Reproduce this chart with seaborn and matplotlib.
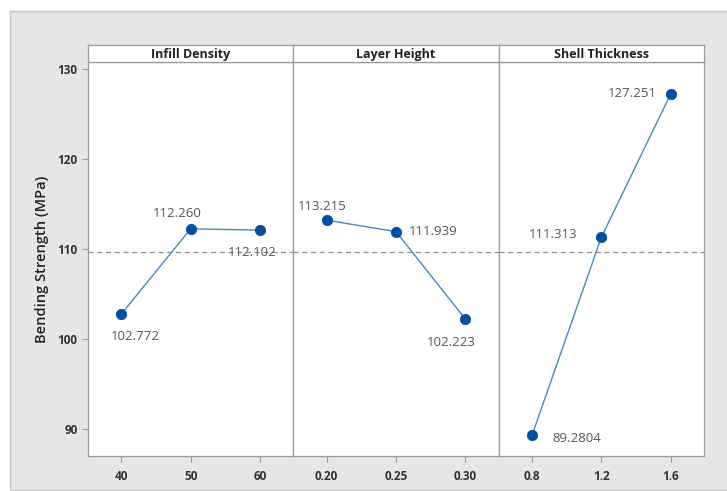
import pandas as pd
import matplotlib.pyplot as plt
import seaborn as sns
from matplotlib.patches import Rectangle

# Main effects data
factors = ["Infill Density", "Layer Height", "Shell Thickness"]
infill_levels = ["40", "50", "60"]
infill_means = [102.772, 112.260, 112.102]
layer_levels = ["0.20", "0.25", "0.30"]
layer_means = [113.215, 111.939, 102.223]
shell_levels = ["0.8", "1.2", "1.6"]
shell_means = [89.2804, 111.313, 127.251]
infill_text = ["102.772", "112.260", "112.102"]
layer_text = ["113.215", "111.939", "102.223"]
shell_text = ["89.2804", "111.313", "127.251"]
grand_mean = 109.7

# label offsets in points (dx, dy) for each value
offsets = [
    [(10, -16), (-10, 11), (-6, -16)],
    [(-3, 10), (27, 0), (-10, -17)],
    [(32, -2), (-35, 2), (-28, 0)],
]

sns.set_theme(style="white")
plt.rcParams["font.family"] = ["Open Sans", "DejaVu Sans"]

df = pd.DataFrame({
    "factor": [factors[0]] * 3 + [factors[1]] * 3 + [factors[2]] * 3,
    "level": infill_levels + layer_levels + shell_levels,
    "pos": [0, 1, 2] * 3,
    "mean": infill_means + layer_means + shell_means,
    "text": infill_text + layer_text + shell_text,
})

fig = plt.figure(figsize=(7.27, 4.91), dpi=100)
fig.patch.set_facecolor("white")
fig.patches.append(Rectangle((10 / 727, 0.002), 1, 1 - 11 / 491 - 0.002,
                             transform=fig.transFigure, facecolor="#e6e6e6",
                             edgecolor="#c8c8c8", lw=1, zorder=-10))

left, right = 88 / 727, 704 / 727
bottom, top = 1 - 456 / 491, 1 - 62 / 491
strip_h = 17 / 491
w = (right - left) / 3

line_col = "#4a86c5"
dot_col = "#0050a0"
edge_col = "#9a9a9a"

for i, fac in enumerate(factors):
    ax = fig.add_axes([left + i * w, bottom, w, top - bottom])
    sub = df[df["factor"] == fac].reset_index(drop=True)
    sns.lineplot(data=sub, x="pos", y="mean", ax=ax, color=line_col,
                 linewidth=1, zorder=3)
    sns.scatterplot(data=sub, x="pos", y="mean", ax=ax, color=dot_col,
                    s=55, edgecolor=dot_col, zorder=5)
    ax.axhline(grand_mean, color="#8c8c8c", ls=(0, (4, 3)), lw=0.9, zorder=1)
    for j, row in sub.iterrows():
        ax.annotate(row["text"], (row["pos"], row["mean"]), xytext=offsets[i][j],
                    textcoords="offset points", ha="center", va="center",
                    fontsize=9.5, color="#555555")
    ax.set_xlim(-0.48, 2.48)
    ax.set_ylim(87, 130.8)
    ax.set_xlabel("")
    ax.set_ylabel("")
    ax.set_xticks(sub["pos"])
    ax.set_xticklabels(sub["level"], fontsize=8.5, fontweight="bold", color="#333333")
    ax.tick_params(axis="x", length=4, width=0.8, color=edge_col, direction="out", pad=6, bottom=True)
    if i == 0:
        ax.set_yticks([90, 100, 110, 120, 130])
        ax.tick_params(axis="y", length=4, width=0.8, color=edge_col, direction="out",
                       labelsize=8.5, labelcolor="#333333", left=True)
        for t in ax.get_yticklabels():
            t.set_fontweight("bold")
        ax.set_ylabel("Bending Strength (MPa)", fontsize=10.5, fontweight="semibold",
                      color="#222222", labelpad=6)
    else:
        ax.set_yticks([])
    for s in ax.spines.values():
        s.set_color(edge_col)
        s.set_linewidth(0.9)
    # facet strip header
    sax = fig.add_axes([left + i * w, top, w, strip_h])
    sax.set_xticks([])
    sax.set_yticks([])
    sax.set_facecolor("white")
    for s in sax.spines.values():
        s.set_color(edge_col)
        s.set_linewidth(0.9)
    sax.text(0.5, 0.45, fac, ha="center", va="center", fontsize=9,
             fontweight="bold", color="#222222", transform=sax.transAxes)

fig.savefig("out.png", dpi=100)
